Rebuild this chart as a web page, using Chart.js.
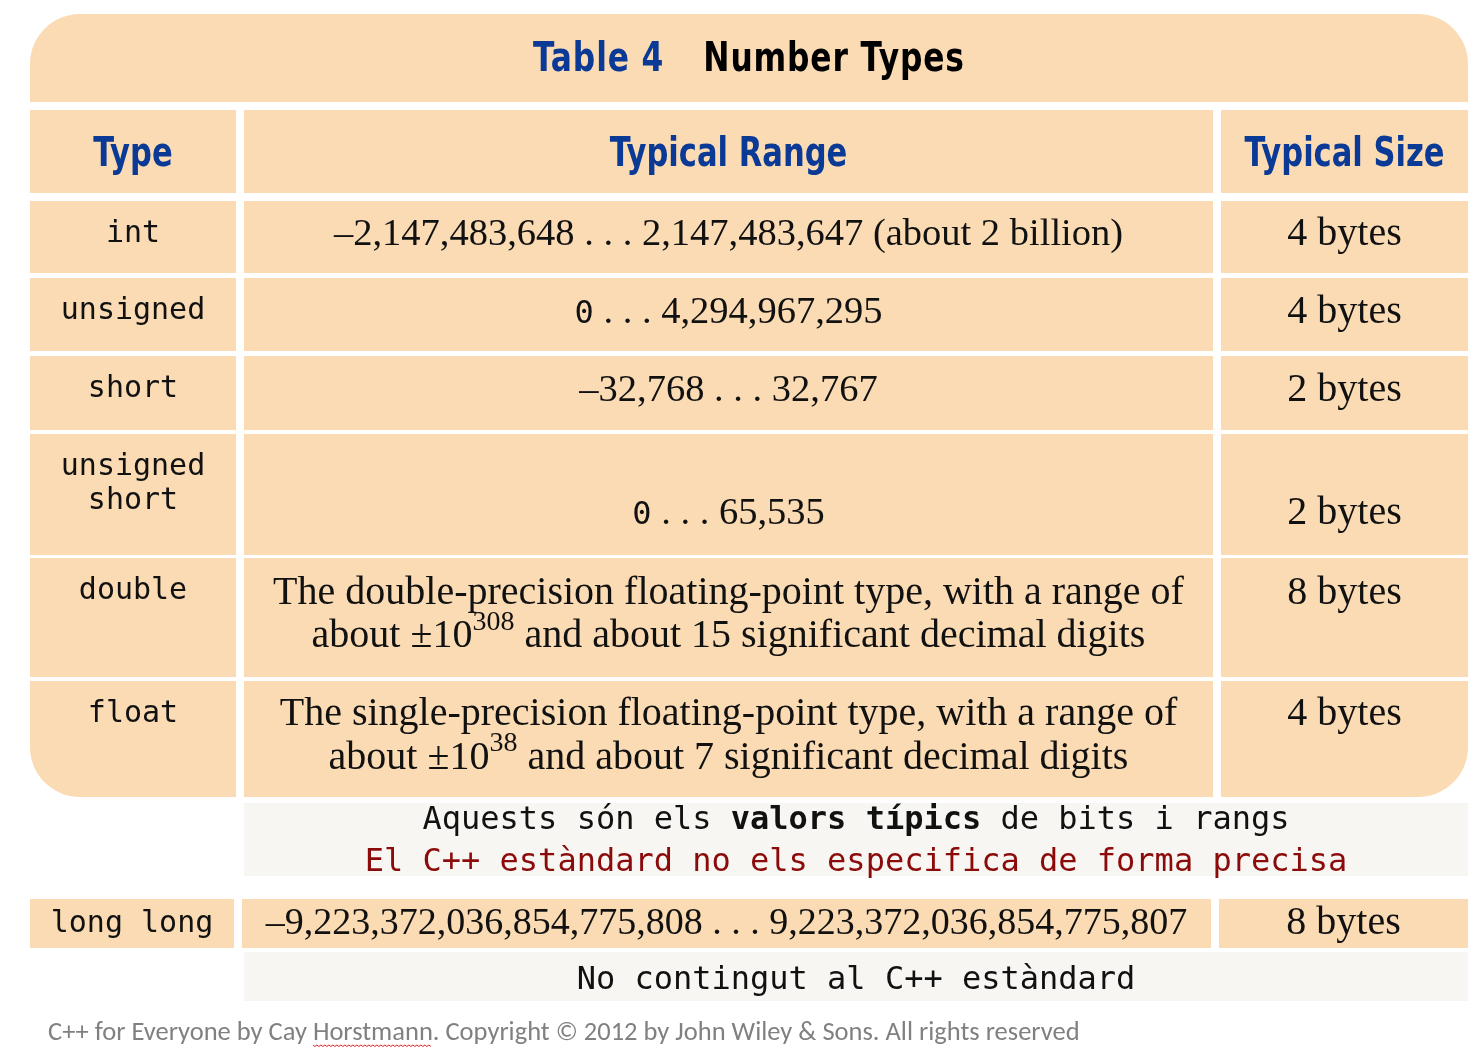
<!DOCTYPE html>
<html>
<head>
<meta charset="utf-8">
<title>Number Types</title>
<script src="https://cdn.jsdelivr.net/npm/chart.js@4.4.1/dist/chart.umd.min.js"></script>
<style>
html, body { margin: 0; padding: 0; background: #fff; }
canvas { display: block; }
</style>
</head>
<body>
<canvas id="myChart" width="1480" height="1055"></canvas>
<script>
// ---- table content ----
var title = ['Table 4', 'Number Types'];
var headers = ['Type', 'Typical Range', 'Typical Size'];
var types = [['int'], ['unsigned'], ['short'], ['unsigned', 'short'], ['double'], ['float']];
// `x` = code font, ^x^ = superscript, **x** = bold
var ranges = [
    ['–2,147,483,648 . . . 2,147,483,647 (about 2 billion)'],
    ['`0` . . . 4,294,967,295'],
    ['–32,768 . . . 32,767'],
    ['', '`0` . . . 65,535'],
    ['The double-precision floating-point type, with a range of', 'about ±10^308^ and about 15 significant decimal digits'],
    ['The single-precision floating-point type, with a range of', 'about ±10^38^ and about 7 significant decimal digits']
];
var sizes = [['4 bytes'], ['4 bytes'], ['2 bytes'], ['', '2 bytes'], ['8 bytes', ''], ['4 bytes', '']];
var note = ['Aquests són els **valors típics** de bits i rangs', 'El C++ estàndard no els especifica de forma precisa'];
var extraType = 'long long';
var extraRange = '–9,223,372,036,854,775,808 . . . 9,223,372,036,854,775,807';
var extraSize = '8 bytes';
var extraNote = 'No contingut al C++ estàndard';
var credit = ['C++ for Everyone by Cay ', 'Horstmann', '. Copyright © 2012 by John Wiley & Sons. All rights reserved'];

// ---- layout (axis units) ----
var panel = { x0: 30, x1: 1468, y0: 14, y1: 797, r: 50 };
var cols = [[30, 236], [244, 1213], [1221, 1468]];
var titleBand = [14, 102];
var headBand = [110, 193];
var rowBands = [[201, 273], [278, 351], [356, 430], [434, 555], [558, 677], [681, 797]];
var rangeFont = [38.5, 38.5, 38.5, 38.5, 40, 40];
var noteBox = [244, 1468, 803, 876];
var extraBand = [899, 948];
var extraCols = [[30, 234], [242, 1211], [1219, 1468]];
var extraNoteBox = [244, 1468, 952, 1001];

var PEACH = '#FADBB3', BLUE = '#0B3A96', DARKRED = '#8B0A0A', NOTEBG = '#F7F6F2';
var HEAD = '"DejaVu Sans Condensed", "DejaVu Sans", sans-serif';
var SERIF = '"Liberation Serif", serif';
var MONO = '"DejaVu Sans Mono", monospace';

var monoType = { size: 30, family: MONO, color: '#111' };
var noteStyle = { size: 32, family: MONO, color: '#111' };
var sizeStyle = { size: 40, family: SERIF, color: '#111' };

function parseRich(str) {
    var out = [];
    str.split(/(\*\*[^*]+\*\*|\^[^^]+\^|`[^`]+`)/).forEach(function (p) {
        if (!p) return;
        if (p.indexOf('**') == 0) out.push({ t: p.slice(2, -2), s: 'bold' });
        else if (p[0] == '^') out.push({ t: p.slice(1, -1), s: 'sup' });
        else if (p[0] == '`') out.push({ t: p.slice(1, -1), s: 'mono' });
        else out.push({ t: p, s: 'plain' });
    });
    return out;
}

function fontFor(st, kind) {
    if (kind == 'bold') return 'bold ' + st.size + 'px ' + st.family;
    if (kind == 'sup') return Math.round(st.size * 0.7) + 'px ' + st.family;
    if (kind == 'mono') return Math.round(st.size * 0.84) + 'px ' + MONO;
    return (st.weight || 'normal') + ' ' + st.size + 'px ' + st.family;
}

function drawRich(ctx, str, cx, y, st) {
    var segs = parseRich(str), w = 0;
    segs.forEach(function (g) {
        ctx.font = fontFor(st, g.s);
        g.w = ctx.measureText(g.t).width;
        w += g.w;
    });
    var x = cx - w / 2;
    ctx.textAlign = 'left';
    ctx.textBaseline = 'alphabetic';
    ctx.fillStyle = st.color;
    segs.forEach(function (g) {
        ctx.font = fontFor(st, g.s);
        ctx.fillText(g.t, x, g.s == 'sup' ? y - st.size * 0.44 : y);
        x += g.w;
    });
}

// condensed heading text: squeeze horizontally around its left edge
function headText(ctx, txt, x, y, squeeze) {
    ctx.save();
    ctx.translate(x, y);
    ctx.scale(squeeze, 1);
    ctx.textAlign = 'left';
    ctx.fillText(txt, 0, 0);
    ctx.restore();
}

var tablePlugin = {
    id: 'tableCells',
    beforeDatasetsDraw: function (chart) {
        var ctx = chart.ctx, xs = chart.scales.x, ys = chart.scales.y;
        function px(v) { return xs.getPixelForValue(v); }
        function py(v) { return ys.getPixelForValue(v); }
        function cell(x0, x1, y0, y1, color) {
            ctx.fillStyle = color;
            ctx.fillRect(px(x0), py(y0), px(x1) - px(x0), py(y1) - py(y0));
        }
        function mid(a) { return (a[0] + a[1]) / 2; }

        ctx.save();
        // rounded panel clip
        ctx.beginPath();
        ctx.roundRect(px(panel.x0), py(panel.y0), px(panel.x1) - px(panel.x0), py(panel.y1) - py(panel.y0), panel.r);
        ctx.clip();
        cell(panel.x0, panel.x1, titleBand[0], titleBand[1], PEACH);
        cols.forEach(function (c) {
            cell(c[0], c[1], headBand[0], headBand[1], PEACH);
            rowBands.forEach(function (r) { cell(c[0], c[1], r[0], r[1], PEACH); });
        });
        ctx.restore();

        // title
        var sq = 0.85;
        ctx.save();
        ctx.font = 'bold 41px ' + HEAD;
        ctx.letterSpacing = '1px';
        var w1 = ctx.measureText(title[0]).width * sq, w2 = ctx.measureText(title[1]).width * sq, gap = 39;
        var tx = px((panel.x0 + panel.x1) / 2) - (w1 + gap + w2) / 2, ty = py(mid(titleBand)) + 13;
        ctx.fillStyle = BLUE;
        headText(ctx, title[0], tx, ty, sq);
        ctx.fillStyle = '#000';
        headText(ctx, title[1], tx + w1 + gap, ty, sq);

        // column headers
        ctx.font = 'bold 40px ' + HEAD;
        ctx.letterSpacing = '0px';
        ctx.fillStyle = BLUE;
        headers.forEach(function (h, i) {
            var hw = ctx.measureText(h).width * sq;
            headText(ctx, h, px(mid(cols[i])) - hw / 2, py(mid(headBand)) + 14, sq);
        });
        ctx.restore();

        // body rows
        rowBands.forEach(function (r, i) {
            types[i].forEach(function (t, k) {
                drawRich(ctx, t, px(mid(cols[0])), py(r[0]) + 41 + k * 34, monoType);
            });
            var lh = 43.5;
            var rs = { size: rangeFont[i], family: SERIF, color: '#111' };
            [ranges[i], sizes[i]].forEach(function (lines, c) {
                var top = mid(r) - lines.length * lh / 2;
                lines.forEach(function (l, k) {
                    if (l) drawRich(ctx, l, px(mid(cols[c + 1])), py(top + lh * k + lh / 2) + 8, c ? sizeStyle : rs);
                });
            });
        });

        // note box
        cell(noteBox[0], noteBox[1], noteBox[2], noteBox[3], NOTEBG);
        var nc = px((noteBox[0] + noteBox[1]) / 2);
        drawRich(ctx, note[0], nc, py(noteBox[2]) + 26, noteStyle);
        drawRich(ctx, note[1], nc, py(noteBox[2]) + 68, { size: 32, family: MONO, color: DARKRED });

        // long long row
        extraCols.forEach(function (c) { cell(c[0], c[1], extraBand[0], extraBand[1], PEACH); });
        drawRich(ctx, extraType, px(mid(extraCols[0])), py(mid(extraBand)) + 8, monoType);
        drawRich(ctx, extraRange, px(mid(extraCols[1])), py(mid(extraBand)) + 10, { size: 38, family: SERIF, color: '#111' });
        drawRich(ctx, extraSize, px(mid(extraCols[2])), py(mid(extraBand)) + 10, sizeStyle);

        cell(extraNoteBox[0], extraNoteBox[1], extraNoteBox[2], extraNoteBox[3], NOTEBG);
        drawRich(ctx, extraNote, px((extraNoteBox[0] + extraNoteBox[1]) / 2), py(extraNoteBox[2]) + 37, noteStyle);

        // credit line
        ctx.save();
        ctx.font = '26.5px Carlito, Lato, sans-serif';
        ctx.fillStyle = '#808080';
        ctx.textAlign = 'left';
        var cx = px(48), cy = py(1040);
        var a = ctx.measureText(credit[0]).width, b = ctx.measureText(credit[1]).width;
        ctx.fillText(credit.join(''), cx, cy);
        ctx.strokeStyle = '#E02020';
        ctx.lineWidth = 1;
        ctx.beginPath();
        for (var s = 0; s <= b; s += 2) {
            var yy = cy + 5 + ((s / 2) % 2 ? 1.5 : 0);
            if (s == 0) ctx.moveTo(cx + a + s, yy); else ctx.lineTo(cx + a + s, yy);
        }
        ctx.stroke();
        ctx.restore();
    }
};

var ctx = document.getElementById('myChart').getContext('2d');
var myChart = new Chart(ctx, {
    type: 'scatter',
    data: { datasets: [{ data: [] }] },
    options: {
        responsive: false,
        animation: false,
        devicePixelRatio: 1,
        layout: { padding: 0 },
        plugins: { legend: { display: false }, tooltip: { enabled: false } },
        scales: {
            x: { type: 'linear', min: 0, max: 1480, display: false },
            y: { type: 'linear', min: 0, max: 1055, reverse: true, display: false }
        }
    },
    plugins: [tablePlugin]
});
</script>
</body>
</html>
